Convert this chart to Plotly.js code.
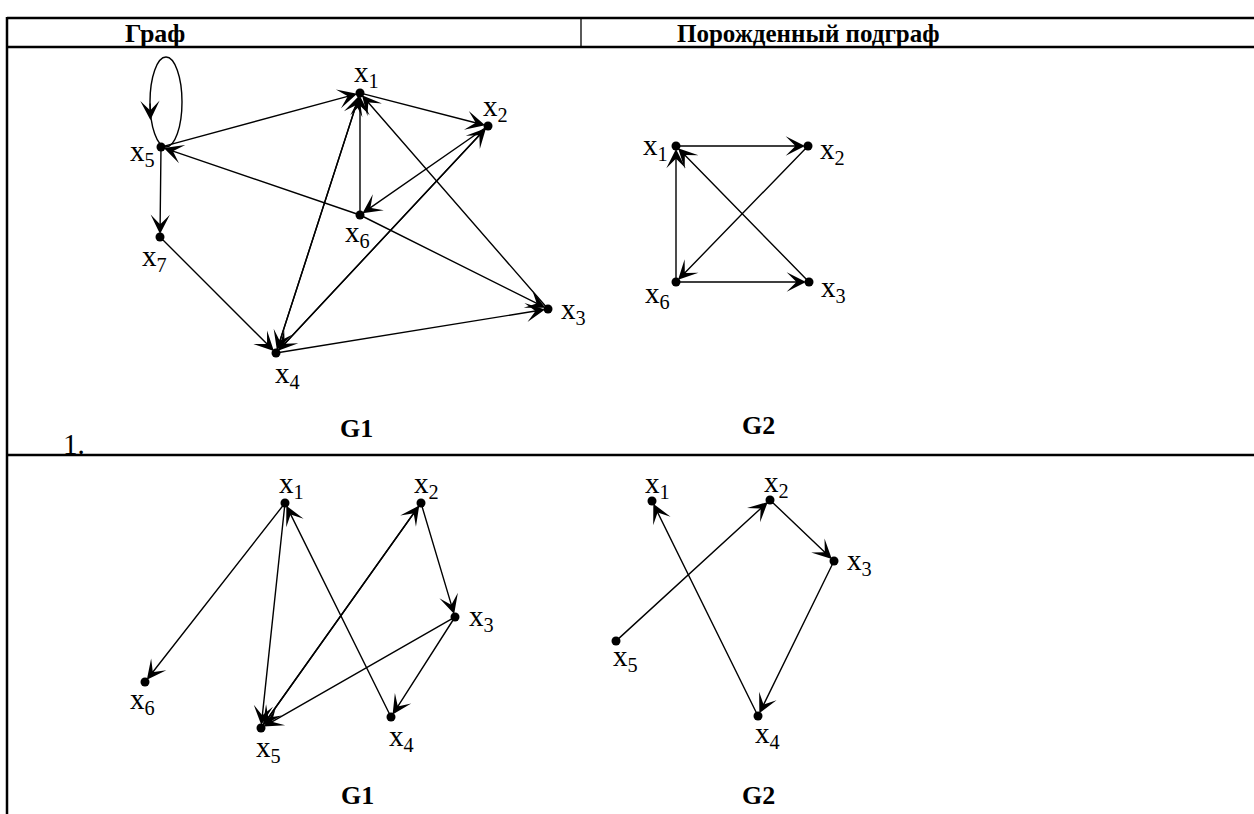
<!DOCTYPE html>
<html>
<head>
<meta charset="utf-8">
<script src="https://cdn.plot.ly/plotly-3.0.1.min.js"></script>
<style>html,body{margin:0;padding:0;background:#fff;}#chart{width:1254px;height:814px;}</style>
</head>
<body>
<div id="chart"></div>
<script>
// ---- Data ----
const headers = ["Граф", "Порожденный подграф"];
const rowLabels = ["1.", "2"];
const graphTitles = ["G1", "G2", "G1", "G2"];

// Row 1, G1
const r1g1Names = ["1", "2", "3", "4", "5", "6", "7"];
const r1g1X = [360, 488, 548, 276, 161, 360, 160];
const r1g1Y = [93, 126, 309, 353, 147, 215, 237];
const r1g1LabelX = [366, 495, 573, 287, 142, 357, 154];
const r1g1LabelY = [74, 108, 311, 375, 153, 234, 258];
const r1g1Edges = [["5","1"],["1","2"],["6","5"],["5","7"],["7","4"],["1","4"],["4","1"],["6","1"],["2","6"],["4","2"],["2","4"],["6","3"],["3","1"],["4","3"]];
const r1g1Loops = ["5"];

// Row 1, G2
const r1g2Names = ["1", "2", "3", "6"];
const r1g2X = [676, 808, 809, 676];
const r1g2Y = [146, 146, 282, 282];
const r1g2LabelX = [655, 832, 833, 657];
const r1g2LabelY = [147, 151, 289, 295];
const r1g2Edges = [["1","2"],["2","6"],["6","1"],["6","3"],["3","1"]];

// Row 2, G1
const r2g1Names = ["1", "2", "3", "4", "5", "6"];
const r2g1X = [285, 421, 455, 391, 261, 145];
const r2g1Y = [503, 503, 617, 717, 728, 682];
const r2g1LabelX = [291, 426, 481, 401, 268, 142];
const r2g1LabelY = [485, 485, 618, 738, 749, 701];
const r2g1Edges = [["1","6"],["1","5"],["4","1"],["5","2"],["2","5"],["2","3"],["3","5"],["3","4"]];

// Row 2, G2
const r2g2Names = ["1", "2", "3", "4", "5"];
const r2g2X = [652, 770, 834, 758, 616];
const r2g2Y = [501, 500, 561, 716, 641];
const r2g2LabelX = [657, 776, 859, 767, 625];
const r2g2LabelY = [485, 484, 562, 735, 658];
const r2g2Edges = [["5","2"],["2","3"],["3","4"],["4","1"]];

// ---- Build ----
const serif = '"Liberation Serif", "Times New Roman", "DejaVu Serif", serif';
const graphs = [
  {names:r1g1Names, x:r1g1X, y:r1g1Y, lx:r1g1LabelX, ly:r1g1LabelY, edges:r1g1Edges, loops:r1g1Loops},
  {names:r1g2Names, x:r1g2X, y:r1g2Y, lx:r1g2LabelX, ly:r1g2LabelY, edges:r1g2Edges, loops:[]},
  {names:r2g1Names, x:r2g1X, y:r2g1Y, lx:r2g1LabelX, ly:r2g1LabelY, edges:r2g1Edges, loops:[]},
  {names:r2g2Names, x:r2g2X, y:r2g2Y, lx:r2g2LabelX, ly:r2g2LabelY, edges:r2g2Edges, loops:[]}
];

const traces = [];
const annotations = [];
const shapes = [];
const arrowStyle = {showarrow:true, arrowhead:3, arrowsize:2.3, arrowwidth:1.4, arrowcolor:'#000', text:''};

graphs.forEach(g => {
  traces.push({
    type:'scatter', mode:'markers', x:g.x, y:g.y,
    marker:{color:'#000', size:9}, hoverinfo:'skip', showlegend:false
  });
  g.names.forEach((n,i) => {
    annotations.push({
      x:g.lx[i], y:g.ly[i], xref:'x', yref:'y', showarrow:false,
      text:'x<sub>'+n+'</sub>', font:{family:serif, size:29, color:'#000'},
      xanchor:'center', yanchor:'middle'
    });
  });
  g.edges.forEach(e => {
    const a = g.names.indexOf(e[0]), b = g.names.indexOf(e[1]);
    annotations.push(Object.assign({
      x:g.x[b], y:g.y[b], ax:g.x[a], ay:g.y[a],
      xref:'x', yref:'y', axref:'x', ayref:'y', standoff:3
    }, arrowStyle));
  });
  g.loops.forEach(n => {
    const i = g.names.indexOf(n);
    const cx = g.x[i] + 5, top = g.y[i] - 90;
    shapes.push({type:'circle', xref:'x', yref:'y',
      x0:cx-16, x1:cx+16, y0:top, y1:g.y[i], line:{color:'#000', width:1.4}});
    annotations.push(Object.assign({
      x:cx-15.6, y:g.y[i]-27, ax:cx-16, ay:g.y[i]-45,
      xref:'x', yref:'y', axref:'x', ayref:'y', standoff:0
    }, arrowStyle));
  });
});

// Headers
annotations.push({x:155, y:33, xref:'x', yref:'y', showarrow:false, text:'<b>'+headers[0]+'</b>',
  font:{family:serif, size:26, color:'#000'}, xanchor:'center', yanchor:'middle'});
annotations.push({x:808, y:33, xref:'x', yref:'y', showarrow:false, text:'<b>'+headers[1]+'</b>',
  font:{family:serif, size:25, color:'#000'}, xanchor:'center', yanchor:'middle'});

// Graph titles
const titlePos = [[356,428],[758,425],[357,795],[758,795]];
graphTitles.forEach((t,i) => {
  annotations.push({x:titlePos[i][0], y:titlePos[i][1], xref:'x', yref:'y', showarrow:false,
    text:'<b>'+t+'</b>', font:{family:serif, size:26, color:'#000'}, xanchor:'center', yanchor:'middle'});
});

// Row labels
annotations.push({x:74, y:444, xref:'x', yref:'y', showarrow:false, text:rowLabels[0],
  font:{family:serif, size:29, color:'#000'}, xanchor:'center', yanchor:'middle'});
annotations.push({x:69, y:822, xref:'x', yref:'y', showarrow:false, text:rowLabels[1],
  font:{family:serif, size:29, color:'#000'}, xanchor:'center', yanchor:'middle'});

// Table lines
const L = (x0,y0,x1,y1,w) => ({type:'line', xref:'x', yref:'y', x0, y0, x1, y1, line:{color:'#000', width:w}, layer:'below'});
shapes.push(L(7,18,1260,18,2.5));
shapes.push(L(7,47,1260,47,2.5));
shapes.push(L(7,455,1260,455,2.5));
shapes.push(L(7,17,7,820,2.5));
shapes.push(L(581,18,581,47,1.3));

const layout = {
  width:1254, height:814,
  margin:{l:0, r:0, t:0, b:0},
  paper_bgcolor:'#fff', plot_bgcolor:'#fff',
  xaxis:{range:[0,1254], visible:false, fixedrange:true},
  yaxis:{range:[814,0], visible:false, fixedrange:true},
  showlegend:false,
  annotations, shapes
};
Plotly.newPlot('chart', traces, layout, {staticPlot:true, displayModeBar:false});
</script>
</body>
</html>
